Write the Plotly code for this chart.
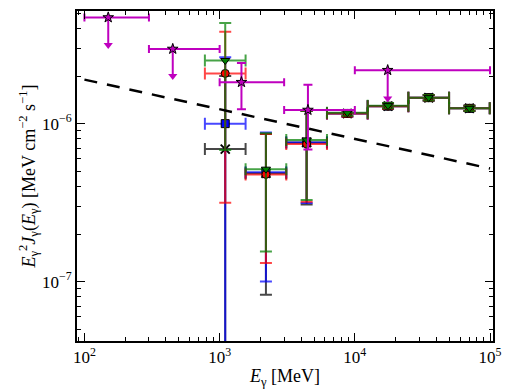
import numpy as np
import plotly.graph_objects as go

# ---------------- data ----------------
# four analyses sharing the same energy bins (MeV)
E_bin = [1100, 2200, 4400, 8800, 17600, 35200, 70400]
E_bin_lo = [778, 1556, 3111, 6223, 12445, 24890, 49780]
E_bin_hi = [1556, 3111, 6223, 12445, 24890, 49780, 99560]

green_y = [2.51e-6, 5.15e-7, 7.89e-7, 1.17e-6, 1.30e-6, 1.46e-6, 1.25e-6]
green_hi = [4.33e-6, 8.70e-7, 1.20e-6, 1.22e-6, 1.35e-6, 1.52e-6, 1.30e-6]
green_lo = [6.80e-7, 1.55e-7, 3.28e-7, 1.12e-6, 1.25e-6, 1.40e-6, 1.20e-6]

red_y = [2.08e-6, 4.77e-7, 7.43e-7, 1.16e-6, 1.29e-6, 1.46e-6, 1.25e-6]
red_hi = [3.81e-6, 8.60e-7, 1.20e-6, 1.21e-6, 1.34e-6, 1.52e-6, 1.30e-6]
red_lo = [3.16e-7, 1.31e-7, 3.20e-7, 1.11e-6, 1.24e-6, 1.40e-6, 1.20e-6]

blue_y = [1.00e-6, 4.92e-7, 7.60e-7, 1.16e-6, 1.29e-6, 1.46e-6, 1.25e-6]
blue_hi = [2.63e-6, 8.80e-7, 1.20e-6, 1.21e-6, 1.34e-6, 1.52e-6, 1.30e-6]
blue_lo = [1e-10, 1.00e-7, 3.15e-7, 1.11e-6, 1.24e-6, 1.40e-6, 1.20e-6]

black_y = [6.90e-7, 4.85e-7, 7.60e-7, 1.16e-6, 1.29e-6, 1.46e-6, 1.25e-6]
black_hi = [2.00e-6, 8.60e-7, 1.20e-6, 1.21e-6, 1.34e-6, 1.52e-6, 1.30e-6]
black_lo = [1e-10, 8.26e-8, 3.08e-7, 1.11e-6, 1.24e-6, 1.40e-6, 1.20e-6]

# magenta points (stars); some are upper limits
E_m = [150, 450, 1450, 4500, 17500]
E_m_lo = [100, 300, 1000, 3000, 10000]
E_m_hi = [300, 1000, 3000, 10000, 100000]
m_y = [4.70e-6, 2.97e-6, 1.83e-6, 1.22e-6, 2.18e-6]
m_upper_limit = [True, True, False, False, True]
m_hi = [None, None, 2.42e-6, 1.76e-6, None]
m_lo = [3.15e-6, 2.00e-6, 1.235e-6, 6.86e-7, 1.44e-6]   # error low / arrow tip

# dashed model line endpoints
model_E = [100, 1e5]
model_y = [1.90e-6, 5.20e-7]

x_ticks = [1e2, 1e3, 1e4, 1e5]
x_ticktext = ["10<sup>2</sup>", "10<sup>3</sup>", "10<sup>4</sup>", "10<sup>5</sup>"]
y_ticks = [1e-7, 1e-6]
y_ticktext = ["10<sup>−7</sup>", "10<sup>−6</sup>"]

# ---------------- figure ----------------
fig = go.Figure()

def add_series(y, hi, lo, color_rgb, symbol, size, line_w=1):
    E = np.array(E_bin, float)
    y = np.array(y, float)
    r, g, b = color_rgb
    lc = f"rgba({r},{g},{b},0.72)"
    fig.add_trace(go.Scatter(
        x=E, y=y, mode="markers",
        marker=dict(symbol=symbol, size=size, color=f"rgb({r},{g},{b})",
                    line=dict(color="black", width=line_w)),
        error_x=dict(type="data", symmetric=False,
                     array=np.array(E_bin_hi) - E, arrayminus=E - np.array(E_bin_lo),
                     color=lc, thickness=2, width=6),
        error_y=dict(type="data", symmetric=False,
                     array=np.array(hi) - y, arrayminus=y - np.array(lo),
                     color=lc, thickness=2, width=6),
        showlegend=False))

add_series(black_y, black_hi, black_lo, (0, 0, 0), "x-thin", 9, 2)
add_series(blue_y, blue_hi, blue_lo, (0, 0, 255), "square", 8)
add_series(red_y, red_hi, red_lo, (255, 0, 0), "circle", 8)
add_series(green_y, green_hi, green_lo, (0, 128, 0), "triangle-down", 8)

# dashed model
fig.add_trace(go.Scatter(x=model_E, y=model_y, mode="lines",
                         line=dict(color="black", width=2.5, dash="13px,10px"),
                         showlegend=False))

# magenta points
mag = "rgb(191,0,191)"
Em = np.array(E_m, float)
my = np.array(m_y, float)
ul = np.array(m_upper_limit)
det = ~ul
# upper limits: line down to arrow tip
fig.add_trace(go.Scatter(
    x=Em[ul], y=my[ul], mode="markers",
    marker=dict(symbol="star", size=8, color=mag, line=dict(color="black", width=1)),
    error_x=dict(type="data", symmetric=False,
                 array=(np.array(E_m_hi) - Em)[ul], arrayminus=(Em - np.array(E_m_lo))[ul],
                 color=mag, thickness=2, width=4),
    error_y=dict(type="data", symmetric=False,
                 array=np.zeros(ul.sum()), arrayminus=(my - np.array(m_lo))[ul],
                 color=mag, thickness=2, width=0),
    showlegend=False))
fig.add_trace(go.Scatter(
    x=Em[ul], y=np.array(m_lo)[ul], mode="markers",
    marker=dict(symbol="triangle-down", size=8, color=mag, line=dict(width=0)),
    showlegend=False))
# detections
mhi = np.array([v if v is not None else np.nan for v in m_hi], float)
fig.add_trace(go.Scatter(
    x=Em[det], y=my[det], mode="markers",
    marker=dict(symbol="star", size=8, color=mag, line=dict(color="black", width=1)),
    error_x=dict(type="data", symmetric=False,
                 array=(np.array(E_m_hi) - Em)[det], arrayminus=(Em - np.array(E_m_lo))[det],
                 color=mag, thickness=2, width=4),
    error_y=dict(type="data", symmetric=False,
                 array=(mhi - my)[det], arrayminus=(my - np.array(m_lo))[det],
                 color=mag, thickness=2, width=4.5),
    showlegend=False))

font_family = "Liberation Serif, Times New Roman, serif"

def minor_vals(k0, k1):
    return [m * 10.0 ** k for k in range(k0, k1 + 1) for m in range(2, 10)]

common = dict(showline=True, linecolor="black", linewidth=2, mirror="allticks",
              ticks="inside", ticklen=8, tickwidth=1, tickcolor="black",
              showgrid=False, zeroline=False,
              tickfont=dict(family=font_family, size=17, color="black"))

fig.update_xaxes(type="log", range=[1.945, 5.022],
                 tickmode="array", tickvals=x_ticks, ticktext=x_ticktext,
                 minor=dict(tickmode="array", tickvals=minor_vals(1, 4), ticks="inside",
                            ticklen=4, tickwidth=1, tickcolor="black", showgrid=False),
                 title=dict(text="<i>E</i><sub>γ</sub> [MeV]",
                            font=dict(family=font_family, size=18, color="black"), standoff=3),
                 **common)
fig.update_yaxes(type="log", range=[-7.376, -5.287],
                 tickmode="array", tickvals=y_ticks, ticktext=y_ticktext,
                 minor=dict(tickmode="array", tickvals=minor_vals(-9, -6), ticks="inside",
                            ticklen=4, tickwidth=1, tickcolor="black", showgrid=False),
                 title=dict(text="<i>E</i><sub>γ</sub><sup>2</sup><i>J</i><sub>γ</sub>(<i>E</i><sub>γ</sub>) [MeV cm<sup>−2</sup> s<sup>−1</sup>]",
                            font=dict(family=font_family, size=18, color="black"), standoff=2),
                 **common)

fig.update_layout(width=510, height=392,
                  margin=dict(l=77, r=9, t=9, b=44),
                  paper_bgcolor="white", plot_bgcolor="white",
                  font=dict(family=font_family, color="black"))

fig.write_html("out.html")
